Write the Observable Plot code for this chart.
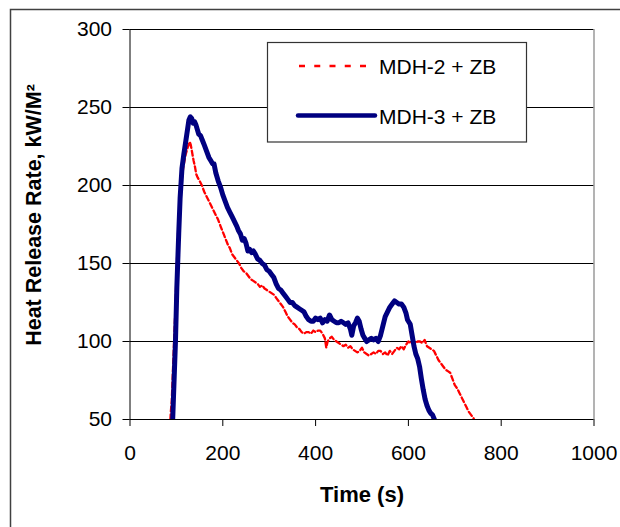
<!DOCTYPE html>
<html>
<head>
<meta charset="utf-8">
<script src="https://cdn.jsdelivr.net/npm/d3@7"></script>
<script src="https://cdn.jsdelivr.net/npm/@observablehq/plot@0.6"></script>
<style>
  html, body { margin: 0; padding: 0; background: #fff; }
  #chart { width: 620px; height: 527px; overflow: hidden; }
</style>
</head>
<body>
<div id="chart"></div>
<script>
// ---- Data ----
const seriesNames = ["MDH-2 + ZB", "MDH-3 + ZB"];

const timeMDH2 = [86,88,90,93,97,101,105,110,115,120,125,129,131,134,137,140,143,146,150,155,160,165,170,175,180,185,190,195,199,203,207,211,215,220,225,230,235,240,245,250,255,260,265,270,275,280,285,290,295,300,305,310,315,320,325,330,335,340,345,350,355,360,365,370,375,380,385,390,395,400,405,410,415,420,423,426,430,435,440,445,450,455,460,465,470,475,480,485,490,495,500,505,510,515,520,525,530,535,540,545,550,555,560,565,570,575,580,585,590,595,600,605,610,615,620,625,630,635,640,645,650,655,660,665,670,675,680,685,690,695,700,705,710,715,720,725,730,735,740,743];
const hrrMDH2  = [45,55,62,85,115,150,180,200,212,220,225,228,226,221,216,212,207,205,203,200,196,193,190,187,184,181,178,174,171,168,165,162,160,156,154,152,150,147,145,144,142,140,139,138,137,135,136,134,133,132,131,130,128,126,124,122,119,116,114,112,111,109,108,106,105,106,106,105,107,106,107,107,105,102,96,100,102,103,101,100,99,98,97,98,96,97,95,94,93,94,96,93,92,91,92,93,92,94,94,92,93,91,94,92,94,96,95,97,95,98,100,99,101,99,100,100,99,101,97,96,95,94,91,88,86,84,82,81,80,76,72,70,67,64,61,58,55,53,51,49];

const timeMDH3 = [90,92,95,98,101,105,108,112,116,120,124,127,130,133,136,139,142,145,148,152,156,160,165,170,174,178,181,185,190,195,200,205,210,215,220,225,230,234,238,242,246,250,254,258,262,266,270,275,280,285,290,295,300,305,310,315,320,325,330,335,340,345,350,355,360,365,370,375,380,385,390,395,400,405,410,415,420,425,430,435,440,445,450,455,460,465,470,475,478,482,486,490,494,498,502,506,510,515,520,525,530,535,540,545,550,555,560,565,570,575,580,585,590,595,598,600,604,608,612,616,620,624,628,632,636,640,644,648,652,656,658];
const hrrMDH3  = [45,50,75,100,135,169,192,211,220,228,236,242,244,243,240,241,239,236,233,232,229,226,222,218,216,214,214,208,203,199,194,190,186,183,180,177,174,171,169,165,166,163,158,159,157,158,156,153,152,150,149,146,145,143,141,137,134,133,131,129,127,125,125,123,122,121,120,119,116,114,113,113,115,114,115,112,114,113,117,114,113,112,112,113,112,111,112,108,104,110,112,115,113,108,104,102,100,101,102,101,102,100,104,110,116,119,122,124,126,125,124,124,122,118,114,113,111,104,97,92,89,84,76,69,63,59,56,54,53,50,48];

const xTicks = [0, 200, 400, 600, 800, 1000];
const yTicks = [50, 100, 150, 200, 250, 300];
const gridY  = [100, 150, 200, 250, 300];
const xLabel = "Time (s)";
const yLabel = "Heat Release Rate, kW/M²";

// ---- Build tables ----
const mdh2 = timeMDH2.map((t, i) => ({time: t, hrr: hrrMDH2[i]}));
const mdh3 = timeMDH3.map((t, i) => ({time: t, hrr: hrrMDH3[i]}));

const FONT = "'Liberation Sans', Arial, Helvetica, sans-serif";
const RED = "#ff0000";
const BLUE = "#000080";

const chart = Plot.plot({
  width: 620,
  height: 527,
  marginLeft: 129.5,
  marginRight: 26.5,
  marginTop: 29,
  marginBottom: 108,
  style: {fontFamily: FONT, fontSize: "21px", color: "#000", background: "#fff"},
  x: {domain: [0, 1000]},
  y: {domain: [50, 300]},
  marks: [
    Plot.ruleY(gridY, {stroke: "#000", strokeWidth: 1}),
    Plot.ruleX([1000], {stroke: "#808080", strokeWidth: 1.2}),
    Plot.line(mdh2, {x: "time", y: "hrr", stroke: RED, strokeWidth: 2.3, strokeDasharray: "5,3", clip: true}),
    Plot.line(mdh3, {x: "time", y: "hrr", stroke: BLUE, strokeWidth: 5, strokeLinejoin: "round", strokeLinecap: "butt", clip: true}),
    Plot.ruleX([0], {stroke: "#000", strokeWidth: 1}),
    Plot.ruleY([50], {stroke: "#000", strokeWidth: 1}),
    Plot.axisX({ticks: xTicks, tickSize: 7, tickPadding: 19, tickFormat: d => String(d), label: null, stroke: "#000", fill: "#000"}),
    Plot.axisY({ticks: yTicks, tickSize: 7, tickPadding: 11, tickFormat: d => String(d), label: null, stroke: "#000", fill: "#000"})
  ]
});

document.getElementById("chart").appendChild(chart);

// ---- Decorations: outer frame, axis titles, legend ----
const svg = d3.select(chart);

svg.append("rect")
  .attr("x", 10.5).attr("y", 9.5)
  .attr("width", 640).attr("height", 560)
  .attr("fill", "none").attr("stroke", "#404040").attr("stroke-width", 1.5);

svg.append("text")
  .attr("x", 362).attr("y", 502)
  .attr("text-anchor", "middle")
  .attr("font-family", FONT).attr("font-size", 22).attr("font-weight", "bold")
  .attr("fill", "#000")
  .text(xLabel);

svg.append("text")
  .attr("transform", "translate(41,215) rotate(-90)")
  .attr("text-anchor", "middle")
  .attr("font-family", FONT).attr("font-size", 21.5).attr("font-weight", "bold")
  .attr("fill", "#000")
  .text(yLabel);

const lg = svg.append("g");
lg.append("rect")
  .attr("x", 267.5).attr("y", 42.5).attr("width", 259).attr("height", 99.5)
  .attr("fill", "#fff").attr("stroke", "#333").attr("stroke-width", 1.2);
lg.append("line")
  .attr("x1", 299).attr("x2", 366).attr("y1", 66).attr("y2", 66)
  .attr("stroke", RED).attr("stroke-width", 2.5).attr("stroke-dasharray", "6,9.25");
lg.append("line")
  .attr("x1", 298).attr("x2", 375).attr("y1", 115.5).attr("y2", 115.5)
  .attr("stroke", BLUE).attr("stroke-width", 4.5).attr("stroke-linecap", "round");
lg.append("text")
  .attr("x", 379).attr("y", 74)
  .attr("text-anchor", "start")
  .attr("font-family", FONT).attr("font-size", 21).attr("fill", "#000")
  .text(seriesNames[0]);
lg.append("text")
  .attr("x", 379).attr("y", 123.5)
  .attr("text-anchor", "start")
  .attr("font-family", FONT).attr("font-size", 21).attr("fill", "#000")
  .text(seriesNames[1]);
</script>
</body>
</html>
